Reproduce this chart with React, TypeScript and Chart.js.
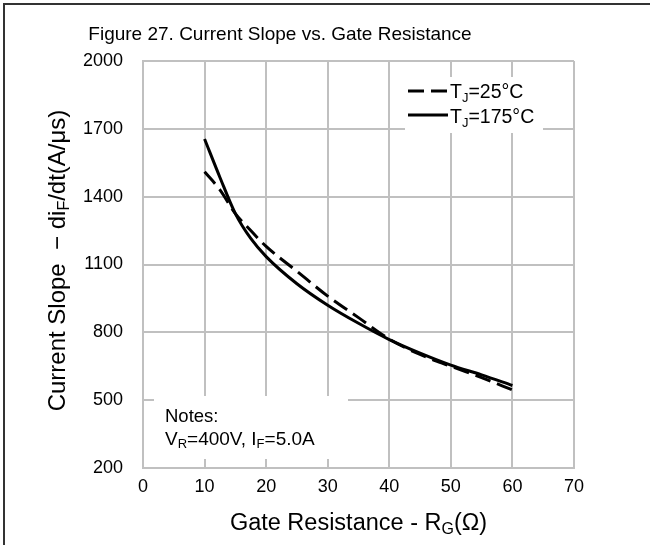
import React, { useEffect, useRef } from "react";
import { Chart, registerables } from "chart.js";

Chart.register(...registerables);

// ---- data ----
const gateResistance = [10, 12.5, 15, 17.5, 20, 25, 30, 35, 40, 45, 50, 55, 60];
const slopeTj25 = [1510, 1430, 1325, 1250, 1180, 1070, 960, 865, 770, 702, 650, 600, 545];
const slopeTj175 = [1655, 1485, 1325, 1215, 1135, 1015, 920, 840, 768, 708, 655, 612, 565];
const xTickValues = [0, 10, 20, 30, 40, 50, 60, 70];
const yTickValues = [200, 500, 800, 1100, 1400, 1700, 2000];

const FONT = '"Liberation Sans", Arial, sans-serif';

type Seg = { t: string; sub?: boolean };

function drawRich(
  ctx: CanvasRenderingContext2D,
  segs: Seg[],
  x: number,
  y: number,
  size: number,
  align: "left" | "center"
) {
  const subSize = Math.round(size * 0.66);
  const widths = segs.map((s) => {
    ctx.font = `${s.sub ? subSize : size}px ${FONT}`;
    return ctx.measureText(s.t).width;
  });
  const total = widths.reduce((a, b) => a + b, 0);
  let cx = align === "center" ? x - total / 2 : x;
  ctx.textAlign = "left";
  ctx.textBaseline = "alphabetic";
  segs.forEach((s, i) => {
    ctx.font = `${s.sub ? subSize : size}px ${FONT}`;
    ctx.fillText(s.t, cx, s.sub ? y + size * 0.18 : y);
    cx += widths[i];
  });
}

const overlay = {
  id: "overlay",
  beforeDatasetsDraw(chart: any) {
    const { ctx, chartArea: ca } = chart;
    ctx.save();
    ctx.fillStyle = "#ffffff";
    // legend background
    ctx.fillRect(ca.left + 262, ca.top + 16, 138, 56);
    // notes background
    ctx.fillRect(ca.left + 11, ca.bottom - 72, 194, 63);
    ctx.restore();
  },
  afterDraw(chart: any) {
    const { ctx, chartArea: ca } = chart;
    ctx.save();
    ctx.fillStyle = "#000";
    ctx.strokeStyle = "#000";

    // title
    drawRich(ctx, [{ t: "Figure 27. Current Slope vs. Gate Resistance" }], 280, 39.5, 19, "center");

    // x axis title
    drawRich(
      ctx,
      [{ t: "Gate Resistance - R" }, { t: "G", sub: true }, { t: "(Ω)" }],
      (ca.left + ca.right) / 2,
      530,
      23.5,
      "center"
    );

    // y axis title
    ctx.save();
    ctx.translate(65, (ca.top + ca.bottom) / 2 - 4);
    ctx.rotate(-Math.PI / 2);
    drawRich(
      ctx,
      [{ t: "Current Slope  \u2212 di" }, { t: "F", sub: true }, { t: "/dt(A/\u03bcs)" }],
      0,
      0,
      24,
      "center"
    );
    ctx.restore();

    // legend
    const lx0 = ca.left + 265;
    const lx1 = ca.left + 305;
    ctx.lineWidth = 3;
    ctx.setLineDash([16, 7]);
    ctx.beginPath();
    ctx.moveTo(lx0, ca.top + 30);
    ctx.lineTo(lx1, ca.top + 30);
    ctx.stroke();
    ctx.setLineDash([]);
    ctx.beginPath();
    ctx.moveTo(lx0, ca.top + 54);
    ctx.lineTo(lx1, ca.top + 54);
    ctx.stroke();
    drawRich(ctx, [{ t: "T" }, { t: "J", sub: true }, { t: "=25°C" }], lx1 + 2, ca.top + 37, 19.5, "left");
    drawRich(ctx, [{ t: "T" }, { t: "J", sub: true }, { t: "=175°C" }], lx1 + 2, ca.top + 62, 19.5, "left");

    // notes
    drawRich(ctx, [{ t: "Notes:" }], ca.left + 22, ca.bottom - 46, 18.5, "left");
    drawRich(
      ctx,
      [{ t: "V" }, { t: "R", sub: true }, { t: "=400V, I" }, { t: "F", sub: true }, { t: "=5.0A" }],
      ca.left + 22,
      ca.bottom - 23,
      19,
      "left"
    );

    // outer frame (top and left edges)
    ctx.fillStyle = "#333";
    ctx.fillRect(3, 3, 647, 2);
    ctx.fillRect(3, 3, 2, 542);
    ctx.restore();
  },
};

export default function App() {
  const ref = useRef<HTMLCanvasElement>(null);

  useEffect(() => {
    document.body.style.margin = "0";
    const tickFont = { family: FONT, size: 18 };
    const chart = new Chart(ref.current as HTMLCanvasElement, {
      type: "line",
      data: {
        datasets: [
          {
            label: "TJ=25°C",
            data: gateResistance.map((x, i) => ({ x, y: slopeTj25[i] })),
            borderColor: "#000",
            borderWidth: 3,
            borderDash: [16, 7],
            pointRadius: 0,
            fill: false,
            cubicInterpolationMode: "monotone",
          },
          {
            label: "TJ=175°C",
            data: gateResistance.map((x, i) => ({ x, y: slopeTj175[i] })),
            borderColor: "#000",
            borderWidth: 3,
            pointRadius: 0,
            fill: false,
            cubicInterpolationMode: "monotone",
          },
        ],
      },
      options: {
        animation: false,
        responsive: false,
        layout: { padding: { top: 61, right: 76, bottom: 0, left: 0 } },
        plugins: {
          legend: { display: false },
          tooltip: { enabled: false },
          title: { display: false },
        },
        scales: {
          x: {
            type: "linear",
            min: 0,
            max: 70,
            afterBuildTicks: (s: any) => {
              s.ticks = xTickValues.map((v) => ({ value: v }));
            },
            afterFit: (s: any) => {
              s.height = 77;
            },
            ticks: {
              color: "#000",
              font: tickFont,
              padding: 8,
              maxRotation: 0,
              callback: (v: any) => String(v),
            },
            grid: { color: "#c0c0c0", lineWidth: 2, drawTicks: false },
            border: { color: "#c0c0c0", width: 2 },
          },
          y: {
            type: "linear",
            min: 200,
            max: 2000,
            afterBuildTicks: (s: any) => {
              s.ticks = yTickValues.map((v) => ({ value: v }));
            },
            afterFit: (s: any) => {
              s.width = 143;
            },
            ticks: {
              color: "#000",
              font: tickFont,
              padding: 20,
              callback: (v: any) => String(v),
            },
            grid: { color: "#c0c0c0", lineWidth: 2, drawTicks: false },
            border: { color: "#c0c0c0", width: 2 },
          },
        },
      } as any,
      plugins: [overlay],
    });
    return () => chart.destroy();
  }, []);

  return (
    <div style={{ width: 650, height: 545 }}>
      <canvas ref={ref} width={650} height={545} style={{ display: "block" }} />
    </div>
  );
}
